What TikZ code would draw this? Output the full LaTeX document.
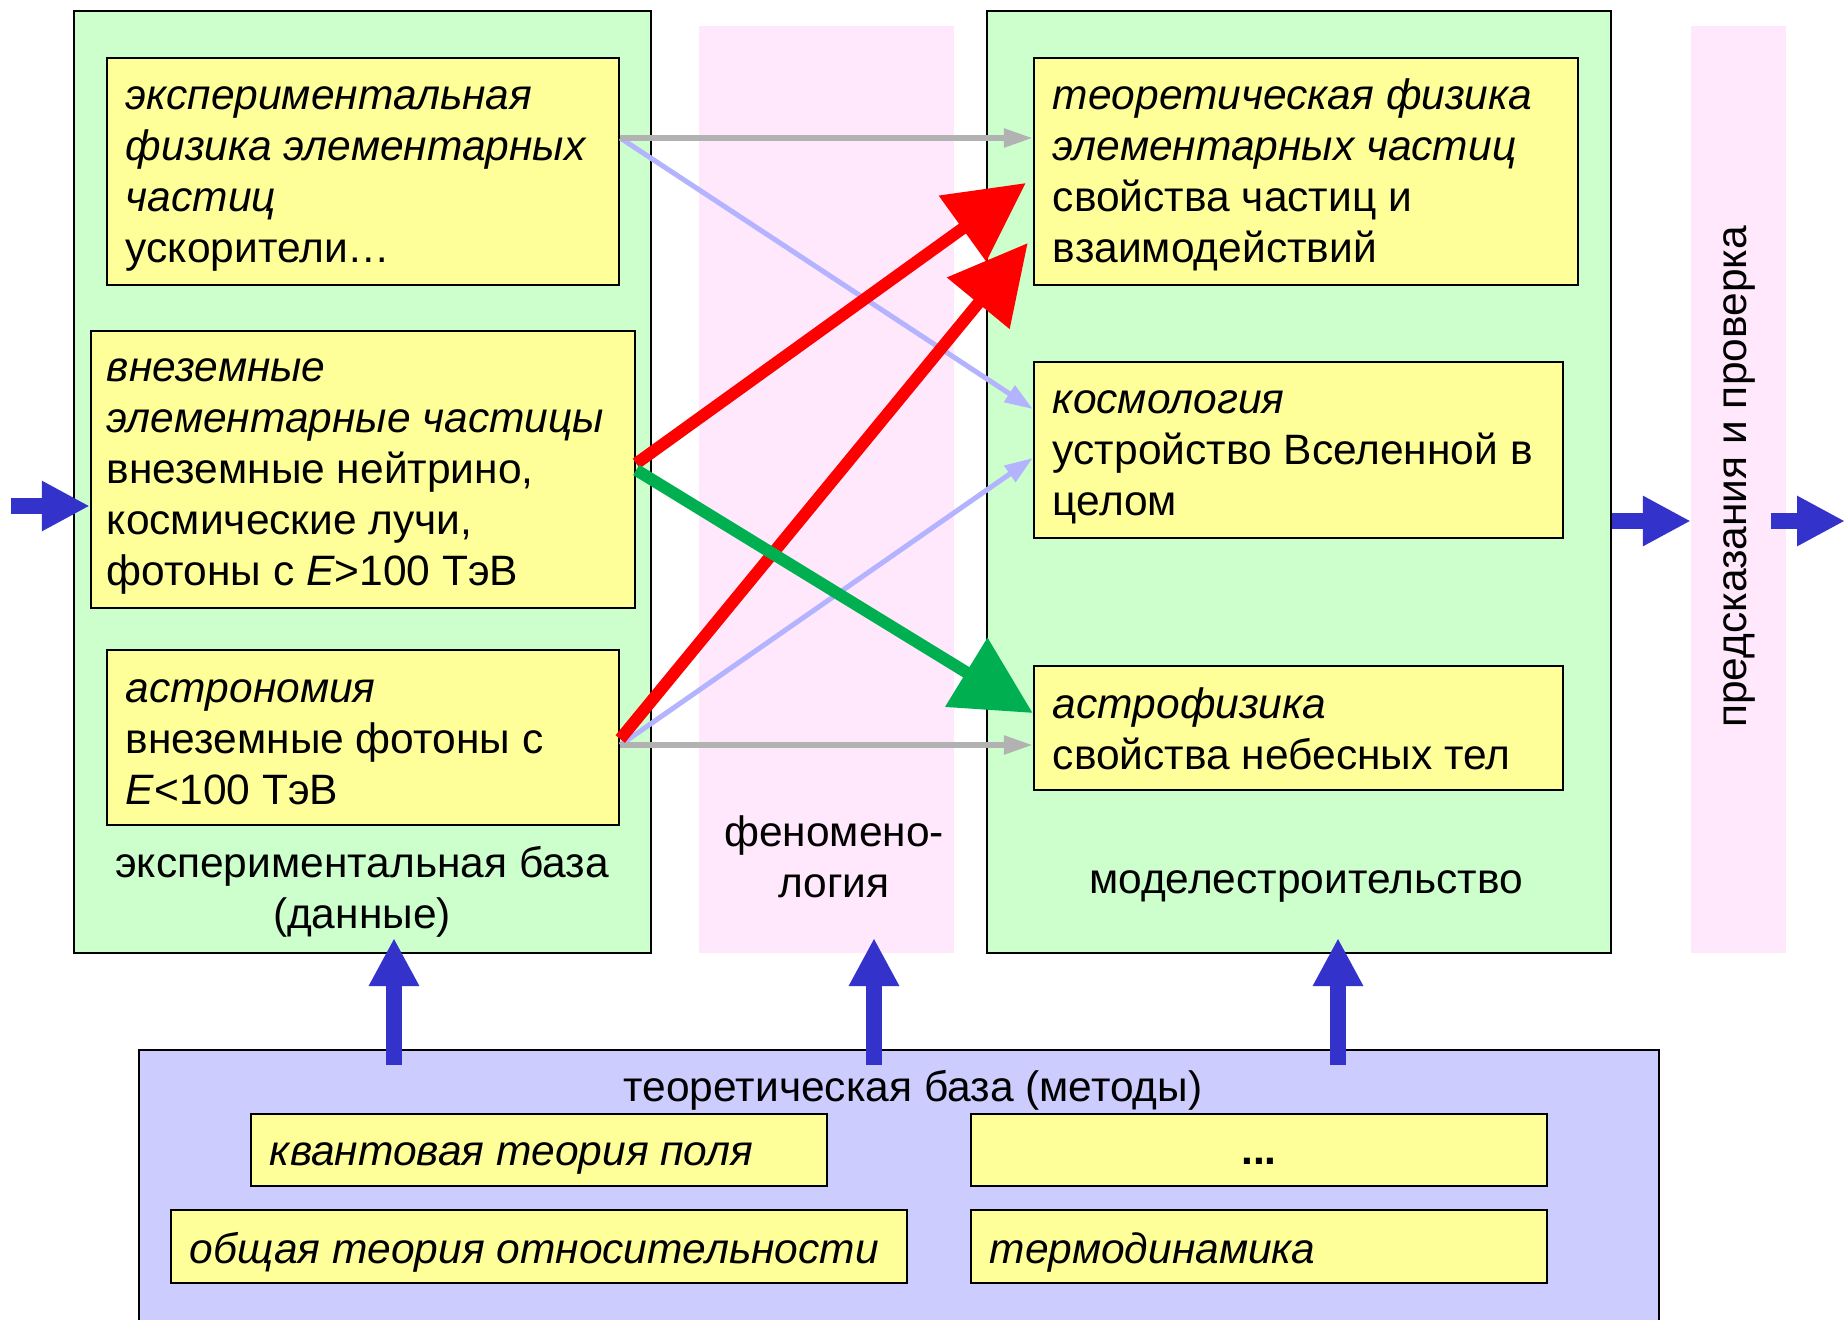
\documentclass[tikz,border=0pt]{standalone}
\usepackage{fontspec}
\setmainfont{Liberation Sans}
\usetikzlibrary{arrows.meta}
\definecolor{grn}{HTML}{CCFFCC}
\definecolor{ylw}{HTML}{FFFF99}
\definecolor{pnk}{HTML}{FFE8FC}
\definecolor{lav}{HTML}{CCCCFF}
\definecolor{barr}{HTML}{3333CC}
\definecolor{lblue}{HTML}{B3B3FF}
\definecolor{gry}{HTML}{B2B2B2}
\definecolor{dgreen}{HTML}{00B050}
\definecolor{rd}{HTML}{FF0000}
\begin{document}
\begin{tikzpicture}[x=1pt,y=-1pt,
  font=\fontsize{42.5}{51}\selectfont,
  greenbox/.style={fill=grn, draw=black, line width=2.5pt, inner sep=0pt},
  pinkcol/.style={fill=pnk, draw=none, inner sep=0pt},
  lavbox/.style={fill=lav, draw=black, line width=2.5pt, inner sep=0pt},
  ybox/.style={fill=ylw, draw=black, line width=2.5pt, inner sep=0pt},
  txt/.style={inner sep=0pt, anchor=west, align=left},
  lbl/.style={inner sep=0pt, align=center},
  blockarrow/.style={draw=barr, line width=16pt, -{Triangle[length=48pt,width=47pt]}},
  thinarrow/.style={line width=5.5pt, -{Triangle[length=29pt,width=18pt]}},
  faintarrow/.style={line width=5pt, -{Triangle[length=28pt,width=19pt]}},
  fatarrow/.style={line width=12pt, -{Triangle[length=78pt,width=78pt]}}
]
\useasboundingbox (0,0) rectangle (1845,1320);
\fill[white] (0,0) rectangle (1845,1320);

% containers
\node[greenbox, minimum width=577pt, minimum height=942pt] (expbox) at (362.5,482) {};
\node[pinkcol, minimum width=255pt, minimum height=927pt] (phencol) at (826.5,489.5) {};
\node[greenbox, minimum width=624pt, minimum height=942pt] (modbox) at (1299,482) {};
\node[pinkcol, minimum width=95pt, minimum height=927pt] (predcol) at (1738.5,489.5) {};
\node[lavbox, minimum width=1520pt, minimum height=275pt] (theobox) at (899,1187.5) {};

% yellow boxes
\node[ybox, minimum width=512pt, minimum height=227pt] (b1) at (363,171.5) {};
\node[ybox, minimum width=544pt, minimum height=277pt] (b2) at (363,469.5) {};
\node[ybox, minimum width=512pt, minimum height=175pt] (b3) at (363,737.5) {};
\node[ybox, minimum width=544pt, minimum height=227pt] (b4) at (1306,171.5) {};
\node[ybox, minimum width=529pt, minimum height=176pt] (b5) at (1298.5,450) {};
\node[ybox, minimum width=529pt, minimum height=124pt] (b6) at (1298.5,728) {};
\node[ybox, minimum width=576pt, minimum height=72pt] (b7) at (539,1150) {};
\node[ybox, minimum width=576pt, minimum height=72pt] (b8) at (1259,1150) {};
\node[ybox, minimum width=736pt, minimum height=73pt] (b9) at (539,1246.5) {};
\node[ybox, minimum width=576pt, minimum height=73pt] (b10) at (1259,1246.5) {};

% texts
\node[txt] (t1) at ([xshift=20pt,yshift=-7pt]b1.west) {\textit{экспериментальная}\\\textit{физика элементарных}\\\textit{частиц}\\ускорители…};
\node[txt] (t2) at ([xshift=17pt,yshift=-7pt]b2.west) {\textit{внеземные}\\\textit{элементарные частицы}\\внеземные нейтрино,\\космические лучи,\\фотоны с \textit{E}>100 ТэВ};
\node[txt] (t3) at ([xshift=20pt,yshift=-5pt]b3.west) {\textit{астрономия}\\внеземные фотоны с\\\textit{E}<100 ТэВ};
\node[txt] (t4) at ([xshift=20pt,yshift=-3.5pt]b4.west) {\textit{теоретическая физика}\\\textit{элементарных частиц}\\свойства частиц и\\взаимодействий};
\node[txt] (t5) at ([xshift=20pt,yshift=-7pt]b5.west) {\textit{космология}\\устройство Вселенной в\\целом};
\node[txt] (t6) at ([xshift=20pt,yshift=-1pt]b6.west) {\textit{астрофизика}\\свойства небесных тел};
\node[txt] (t7) at ([xshift=20pt,yshift=-8pt]b7.west) {\textit{квантовая теория поля}};
\node[lbl] (t8) at ([yshift=-11pt]b8.center) {\textbf{...}};
\node[txt] (t9) at ([xshift=20pt,yshift=-6pt]b9.west) {\textit{общая теория относительности}};
\node[txt] (t10) at ([xshift=20pt,yshift=-6pt]b10.west) {\textit{термодинамика}};

% labels
\node[lbl] (explbl) at (362,892) {экспериментальная база\\(данные)};
\node[lbl] (phenlbl) at (834,856.5) {феномено-\\логия};
\node[lbl] (modlbl) at (1306,886) {моделестроительство};
\node[lbl, rotate=90] (predlbl) at (1739,477) {предсказания и проверка};
\node[lbl] (theolbl) at (913,1090) {теоретическая база (методы)};

% blue block arrows
\coordinate (inL) at (11,506);
\coordinate (outy) at (0,521);
\coordinate (o2s) at (1771,521);
\coordinate (o2e) at (1845,521);
\coordinate (u1) at (394,938);
\coordinate (u2) at (874,938);
\coordinate (u3) at (1338,938);
\draw[blockarrow] (inL) -- (b2.west |- inL);
\draw[blockarrow] (modbox.east |- outy) -- (predcol.west |- outy);
\draw[blockarrow] (o2s) -- (o2e);
\draw[blockarrow] ([yshift=-16pt]theobox.north -| u1) -- (u1);
\draw[blockarrow] ([yshift=-16pt]theobox.north -| u2) -- (u2);
\draw[blockarrow] ([yshift=-16pt]theobox.north -| u3) -- (u3);

% connectors
\draw[lblue, faintarrow] ([yshift=33.5pt]b1.east) -- ([yshift=41pt]b5.west);
\draw[lblue, faintarrow] ([yshift=-7.5pt]b3.east) -- ([yshift=-8pt]b5.west);
\draw[gry, thinarrow] ([yshift=33.5pt]b1.east) -- ([yshift=33.5pt]b4.west);
\draw[gry, thinarrow] ([yshift=-7.5pt]b3.east) -- ([yshift=-17pt]b6.west);
\draw[rd, fatarrow] ([yshift=6pt]b2.east) -- ([xshift=-7pt,yshift=-11.5pt]b4.west);
\draw[rd, fatarrow] ([yshift=-1.5pt]b3.east) -- ([xshift=-5pt,yshift=-71.5pt]b4.west);
\draw[dgreen, fatarrow] ([yshift=-0.5pt]b2.east) -- ([yshift=15pt]b6.west);
\end{tikzpicture}
\end{document}
